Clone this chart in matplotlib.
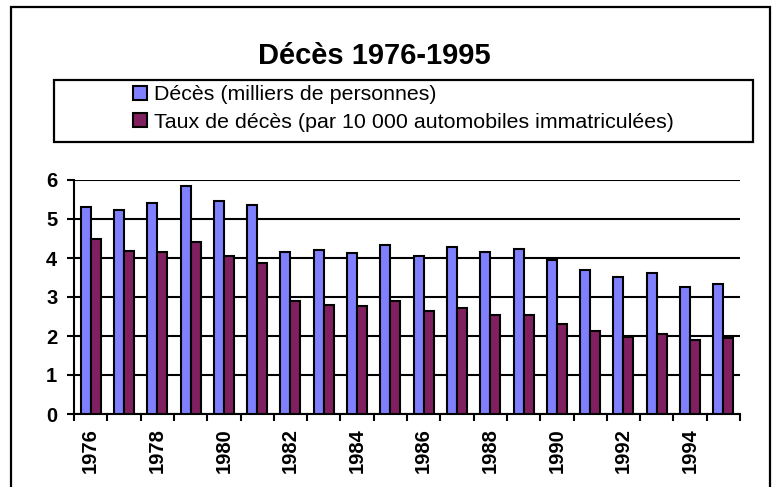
import matplotlib
matplotlib.use("Agg")
import matplotlib.pyplot as plt
from matplotlib.patches import Rectangle, Patch
from matplotlib.ticker import FixedLocator, NullFormatter
import numpy as np

plt.rcParams['font.family'] = ['Liberation Sans', 'DejaVu Sans']

title = "Décès 1976-1995"
years = list(range(1976, 1996))
deces = [5.30, 5.23, 5.42, 5.84, 5.45, 5.36, 4.16, 4.20, 4.12, 4.34,
         4.04, 4.28, 4.16, 4.23, 3.94, 3.68, 3.50, 3.61, 3.25, 3.34]
taux = [4.49, 4.18, 4.16, 4.40, 4.04, 3.88, 2.89, 2.80, 2.77, 2.91,
        2.63, 2.71, 2.54, 2.54, 2.32, 2.13, 1.98, 2.05, 1.91, 1.95]
series_names = ["Décès (milliers de personnes)",
                "Taux de décès (par 10 000 automobiles immatriculées)"]
colors = ["#8080FF", "#802060"]

W, H = 777, 487
fig = plt.figure(figsize=(W / 100, H / 100), dpi=100)

def fx(px):
    return px / W

def fy(py):
    return 1 - py / H

# outer border
fig.patches.append(Rectangle((fx(11), fy(500)), fx(770) - fx(11), fy(7) - fy(500),
                             transform=fig.transFigure, fill=False,
                             edgecolor="black", linewidth=1.6))

ax = fig.add_axes([fx(74), fy(414), fx(740) - fx(74), fy(180) - fy(414)])
x = np.arange(len(years))
bw = 0.3
ax.bar(x - bw / 2, deces, width=bw, color=colors[0], edgecolor="black", linewidth=1.5, zorder=3)
ax.bar(x + bw / 2, taux, width=bw, color=colors[1], edgecolor="black", linewidth=1.5, zorder=3)

ax.set_xlim(-0.5, len(years) - 0.5)
ax.set_ylim(0, 6)
ax.set_yticks(range(0, 7))
ax.set_yticklabels([str(v) for v in range(0, 7)], fontsize=14.5, fontweight="bold")
ax.yaxis.grid(True, color="black", linewidth=1.5, zorder=0)
ax.set_axisbelow(True)

# x ticks: labels at even years, tick marks at category boundaries
ax.set_xticks(x[::2])
ax.set_xticklabels([str(y) for y in years[::2]], rotation=90, fontsize=14.5,
                   fontweight="bold")
ax.tick_params(axis="x", which="major", length=0, pad=10.5)
ax.xaxis.set_minor_locator(FixedLocator(np.arange(-0.5, len(years), 1.0)))
ax.xaxis.set_minor_formatter(NullFormatter())
ax.tick_params(axis="x", which="minor", length=5, width=1.5, direction="out")
ax.tick_params(axis="y", length=5, width=1.5, direction="out", pad=7)

for s in ["top", "right"]:
    ax.spines[s].set_visible(False)
for s in ["left", "bottom"]:
    ax.spines[s].set_linewidth(1.5)

fig.text(fx(374), fy(56), title, ha="center", va="center", fontsize=21,
         fontweight="bold")

# legend frame
fig.patches.append(Rectangle((fx(54), fy(142)), fx(753) - fx(54), fy(80) - fy(142),
                             transform=fig.transFigure, fill=False,
                             edgecolor="black", linewidth=1.6))
handles = [Patch(facecolor=c, edgecolor="black", linewidth=1.5) for c in colors]
fig.legend(handles, series_names, loc="center left", bbox_to_anchor=(fx(133), fy(108.5)),
           frameon=False, fontsize=15.4, handlelength=0.65, handleheight=0.65,
           handletextpad=0.35, labelspacing=0.38, borderpad=0, borderaxespad=0)

fig.savefig("out.png", dpi=100)
